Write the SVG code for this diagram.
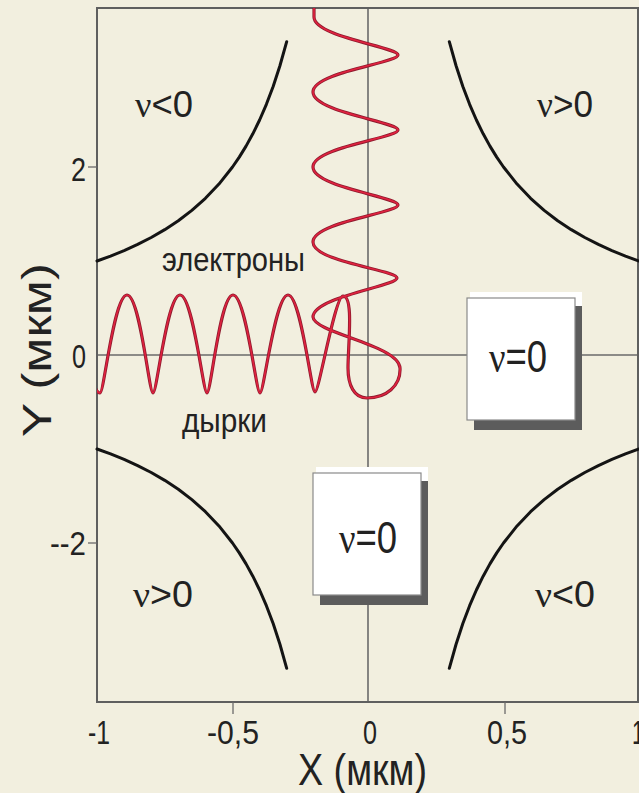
<svg xmlns="http://www.w3.org/2000/svg" xmlns:xlink="http://www.w3.org/1999/xlink" width="639" height="793" viewBox="0 0 639 793">
<style>
text{font-family:"Liberation Sans","DejaVu Sans",sans-serif;fill:#222}
.nu{font-family:"Liberation Serif","DejaVu Serif",serif}
.frame{fill:none;stroke:#5f5f5f;stroke-width:2}
.cl{stroke:#6a6a6a;stroke-width:1.6}
.tick{stroke:#6a6a6a;stroke-width:1.3}
.hyp{fill:none;stroke:#141414;stroke-width:3;stroke-linecap:round;stroke-linejoin:round}
.orbit-edge{fill:none;stroke:#8e1b2e;stroke-width:3.2;stroke-linejoin:round}
.orbit{fill:none;stroke:#e0223f;stroke-width:1.6;stroke-linejoin:round}
.box{fill:#fff;stroke:#8a8a8a;stroke-width:1.2}
.shadow{fill:#5c5c5c}
.hl{fill:#fff}
.tl{font-size:34px}
.rl{font-size:36px}
.bl{font-size:44px}
</style>
<defs>
<clipPath id="plot"><rect x="97" y="8" width="541" height="694"/></clipPath>
<path id="hyp" class="hyp" d="M97,261 L110.55,256.05 L124.1,250.56 L137.65,244.41 L151.2,237.5 L164.75,229.67 L178.3,220.71 L191.85,210.38 L205.4,198.33 L218.95,184.09 L232.5,167 L239.28,157.11 L246.05,146.11 L252.83,133.82 L259.6,120 L266.38,104.33 L273.15,86.43 L279.93,65.77 L286.7,41.67"/>
<path id="orbitPath" d="M314,4 L314,17 C314,37 398,47 398,55 C398,63 313,72 313,92 C313,112 398,122 398,130 C398,138 313,147 313,167 C313,187 398,197 398,205 C398,213 313,222 313,242 C313,262 397,270 397,278 C397,286 313,297 313,317 C314,333 399,345 400,368 C401,386 386,398 367,398 C354,398 348,385 348,368 C348,345 354,296 343,296 C335,296 319,392 315,392 C311,392 301,295 288,295 C275,295 264,393 260,393 C256,393 246,295 233,295 C220,295 211,393 207,393 C203,393 193,295 180,295 C167,295 157,393 153,393 C149,393 140,295 127,295 C114,295 104,393 100,393 C96,393 92,380 90,370"/>
</defs>
<rect width="639" height="793" fill="#f2efdf"/>

<g id="axes">
<line class="cl" x1="97" y1="355" x2="638" y2="355"/>
<line class="cl" x1="368" y1="8" x2="368" y2="702"/>
<rect class="frame" x="97" y="8" width="541" height="694"/>
<line class="tick" x1="88" y1="167" x2="97" y2="167"/>
<line class="tick" x1="88" y1="543" x2="97" y2="543"/>
<line class="tick" x1="233" y1="702" x2="233" y2="714"/>
<line class="tick" x1="505" y1="702" x2="505" y2="714"/>
<text class="tl" x="86" y="181" text-anchor="end" textLength="15" lengthAdjust="spacingAndGlyphs">2</text>
<text class="tl" x="86" y="368" text-anchor="end" textLength="14" lengthAdjust="spacingAndGlyphs">0</text>
<text class="tl" x="86" y="555" text-anchor="end" textLength="36" lengthAdjust="spacingAndGlyphs">--2</text>
<text class="tl" x="99" y="744" text-anchor="middle" textLength="22" lengthAdjust="spacingAndGlyphs">-1</text>
<text class="tl" x="233" y="744" text-anchor="middle" textLength="52" lengthAdjust="spacingAndGlyphs">-0,5</text>
<text class="tl" x="370" y="744" text-anchor="middle" textLength="14" lengthAdjust="spacingAndGlyphs">0</text>
<text class="tl" x="507" y="744" text-anchor="middle" textLength="40" lengthAdjust="spacingAndGlyphs">0,5</text>
<text class="tl" x="632" y="744" textLength="12" lengthAdjust="spacingAndGlyphs">1</text>
<text x="298" y="785" font-size="44" textLength="129" lengthAdjust="spacingAndGlyphs">X (мкм)</text>
<text transform="translate(51,350) rotate(-90)" font-size="40" text-anchor="middle" textLength="174" lengthAdjust="spacingAndGlyphs">Y (мкм)</text>
</g>

<g id="hyperbolas">
<use xlink:href="#hyp"/>
<use xlink:href="#hyp" transform="matrix(-1,0,0,1,736,0)"/>
<use xlink:href="#hyp" transform="matrix(1,0,0,-1,0,710)"/>
<use xlink:href="#hyp" transform="matrix(-1,0,0,-1,736,710)"/>
</g>

<g id="orbit" clip-path="url(#plot)">
<use xlink:href="#orbitPath" class="orbit-edge"/>
<use xlink:href="#orbitPath" class="orbit"/>
</g>

<g id="region-labels">
<text class="rl" x="135" y="117" textLength="58" lengthAdjust="spacingAndGlyphs"><tspan class="nu">ν</tspan>&lt;0</text>
<text class="rl" x="537" y="117" textLength="56" lengthAdjust="spacingAndGlyphs"><tspan class="nu">ν</tspan>&gt;0</text>
<text class="rl" x="133" y="607" textLength="60" lengthAdjust="spacingAndGlyphs"><tspan class="nu">ν</tspan>&gt;0</text>
<text class="rl" x="535" y="607" textLength="60" lengthAdjust="spacingAndGlyphs"><tspan class="nu">ν</tspan>&lt;0</text>
<text x="162" y="271" font-size="34" textLength="143" lengthAdjust="spacingAndGlyphs">электроны</text>
<text x="182" y="432" font-size="34" textLength="85" lengthAdjust="spacingAndGlyphs">дырки</text>
</g>

<g id="box-right">
<rect class="hl" x="470" y="292" width="112" height="20"/>
<rect class="shadow" x="474" y="306" width="108" height="124"/>
<rect class="box" x="467" y="298" width="108" height="122"/>
<text class="bl" transform="translate(518,372) scale(0.83,1)" text-anchor="middle"><tspan class="nu">ν</tspan>=0</text>
</g>

<g id="box-bottom">
<rect class="hl" x="316" y="467" width="112" height="20"/>
<rect class="shadow" x="320" y="481" width="108" height="124"/>
<rect class="box" x="313" y="473" width="108" height="122"/>
<text class="bl" transform="translate(368,553) scale(0.83,1)" text-anchor="middle"><tspan class="nu">ν</tspan>=0</text>
</g>
</svg>
